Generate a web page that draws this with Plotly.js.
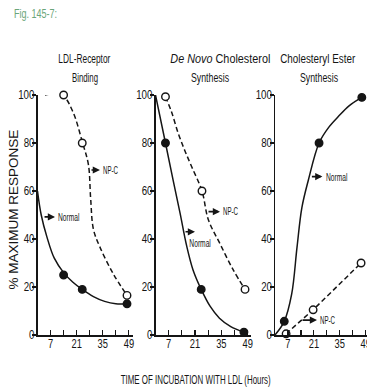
<!DOCTYPE html>
<html><head><meta charset="utf-8">
<script src="https://cdn.plot.ly/plotly-3.0.1.min.js"></script>
<style>html,body{margin:0;padding:0;background:#fff}#chart{width:367px;height:389px}</style>
</head><body><div id="chart"></div><script>
// ---- data ----
const panelTitles1 = ["LDL-Receptor", "<i>De Novo</i> Cholesterol", "Cholesteryl Ester"];
const panelTitles2 = ["Binding", "Synthesis", "Synthesis"];
const yTickVals = [0, 20, 40, 60, 80, 100];
const xTickVals = [7, 14, 21, 28, 35, 42, 49];
const xTickText = ["7", "", "21", "", "35", "", "49"];

// Panel 1: LDL-Receptor Binding
const p1NormalX = [14, 24, 48];
const p1NormalY = [25, 19, 13];
const p1NpcX = [14, 24, 48];
const p1NpcY = [100, 80, 16.5];
const p1NormalCurveX = [0, 2, 5, 9, 14, 19, 24, 30, 36, 42, 48];
const p1NormalCurveY = [60, 50, 41, 32, 26, 22, 19, 16, 14, 13, 13];
const p1NpcCurveX = [4, 9, 14, 19, 24.2, 27.3, 28.5, 30, 33.5, 40.6, 48];
const p1NpcCurveY = [100, 100.5, 99.5, 93, 80, 71, 57, 44, 36.6, 25.5, 16.5];

// Panel 2: De Novo Cholesterol Synthesis
const p2NormalX = [5.3, 24.3, 47];
const p2NormalY = [80, 19, 1.2];
const p2NpcX = [5.3, 24.7, 47.6];
const p2NpcY = [99.3, 60, 19];
const p2NormalCurveX = [0, 5.3, 9.5, 13, 16.6, 20, 24.3, 29, 34, 40, 47];
const p2NormalCurveY = [100, 80, 64, 51, 37, 27, 19, 12, 7, 3.5, 1.2];
const p2NpcCurveX = [5.3, 8.5, 12.1, 15.5, 19.3, 24.7, 28.1, 34.3, 41.4, 47.6];
const p2NpcCurveY = [99.3, 93, 84, 77, 70, 60, 48, 38, 27, 19];

// Panel 3: Cholesteryl Ester Synthesis
const p3NormalX = [5, 23.8, 46.9];
const p3NormalY = [5.7, 80, 99];
const p3NpcX = [6, 20.6, 46.5];
const p3NpcY = [0.5, 10.5, 30];
const p3NormalCurveX = [0, 5, 9, 11.9, 14.5, 18, 23.8, 29, 34.2, 40, 46.9];
const p3NormalCurveY = [0, 5.7, 17, 36.6, 53, 64.5, 80, 86.5, 91, 95.5, 99];

// ---- drawing ----
const W = 367, H = 389;
const FONT = "Liberation Sans, Arial, sans-serif";
const INK = "#151515";
const px = v => v / W;
const py = v => 1 - v / H;

function curve(x, y, ax, dash) {
  return {x, y, xaxis: ax, yaxis: ax.replace('x', 'y'), mode: 'lines', hoverinfo: 'skip',
    line: {color: INK, width: 1.5, shape: 'spline', smoothing: 1, dash: dash ? '5px,3px' : 'solid'}};
}
function pts(x, y, ax, open) {
  return {x, y, xaxis: ax, yaxis: ax.replace('x', 'y'), mode: 'markers', cliponaxis: false,
    marker: {size: 7.5, color: open ? '#fff' : INK, line: {color: INK, width: 1.4}}};
}
const traces = [
  curve(p1NormalCurveX, p1NormalCurveY, 'x', false),
  curve(p1NpcCurveX, p1NpcCurveY, 'x', true),
  pts(p1NormalX, p1NormalY, 'x', false),
  pts(p1NpcX, p1NpcY, 'x', true),
  curve(p2NormalCurveX, p2NormalCurveY, 'x2', false),
  curve(p2NpcCurveX, p2NpcCurveY, 'x2', true),
  pts(p2NormalX, p2NormalY, 'x2', false),
  pts(p2NpcX, p2NpcY, 'x2', true),
  curve(p3NormalCurveX, p3NormalCurveY, 'x3', false),
  {x: p3NpcX, y: p3NpcY, xaxis: 'x3', yaxis: 'y3', mode: 'lines', line: {color: INK, width: 1.5, dash: '5px,3px'}},
  pts(p3NormalX, p3NormalY, 'x3', false),
  pts(p3NpcX, p3NpcY, 'x3', true),
];

function xax(domain, range, anchor) {
  return {domain, range, anchor, showline: true, linewidth: 1.5, linecolor: INK, showgrid: false, zeroline: false,
    ticks: 'inside', ticklen: 5, tickwidth: 1.2, tickcolor: INK, tickvals: xTickVals, ticktext: xTickText,
    ticklabelstandoff: -3, ticklabeloverflow: 'allow',
    tickfont: {family: FONT, size: 12, color: INK}, fixedrange: true};
}
function yax(anchor) {
  return {domain: [54 / H, 294 / H], range: [0, 100], anchor, showline: true, linewidth: 1.5, linecolor: INK,
    showgrid: false, zeroline: false, ticks: 'outside', ticklen: 4, tickwidth: 1.2, tickcolor: INK,
    ticklabelstandoff: -5,
    tickvals: yTickVals, tickfont: {family: FONT, size: 12.5, color: INK}, fixedrange: true};
}

const ann = [];
function txt(text, x, y, opts) {
  ann.push(Object.assign({text, x, y, xref: 'paper', yref: 'paper', showarrow: false,
    font: {family: FONT, size: 12, color: INK}, xanchor: 'center', yanchor: 'middle'}, opts || {}));
}
// figure label
txt("Fig. 145-7:", px(12), py(14), {xanchor: 'left', align: 'left', font: {family: FONT, size: 12.5, color: '#6aa57a'}});
// panel titles
const titleCx1 = [84, 220, 317.5], titleCx2 = [85, 210, 319];
for (let i = 0; i < 3; i++) {
  txt(panelTitles1[i], px(titleCx1[i]), py(59));
  txt(panelTitles2[i], px(titleCx2[i]), py(78));
}
// axis titles
txt("% MAXIMUM RESPONSE", px(12.5), py(210), {textangle: -90, font: {family: FONT, size: 13.5, color: INK}});
txt("TIME OF INCUBATION WITH LDL (Hours)", px(195), py(380), {font: {family: FONT, size: 12, color: INK}});

// series labels with arrows
function label(ax, hx, hy, len, text, tx, ty, anchor) {
  ann.push({x: hx, y: hy, xref: ax, yref: ax.replace('x', 'y'), text: '', showarrow: true,
    ax: -len, ay: 0, arrowhead: 2, arrowsize: 0.9, arrowwidth: 1.6, arrowcolor: INK});
  ann.push({x: tx, y: ty, xref: ax, yref: ax.replace('x', 'y'), text, showarrow: false, align: anchor,
    xanchor: anchor, yanchor: 'middle', font: {family: FONT, size: 10, color: INK}});
}
label('x', 9.4, 49.2, 12, 'Normal', 10.1, 48.8, 'left');
label('x', 33.5, 68.75, 10, 'NP-C', 34.2, 68.75, 'left');
label('x2', 34.3, 51.4, 13, 'NP-C', 34.9, 51.4, 'left');
label('x2', 21, 43, 11, 'Normal', 23.8, 38.2, 'center');
label('x3', 25.6, 66, 12, 'Normal', 26.6, 65.5, 'left');
label('x3', 22.7, 6.2, 16, 'NP-C', 23.3, 6, 'left');

const layout = {
  width: W, height: H, margin: {l: 0, r: 0, t: 0, b: 0}, showlegend: false,
  paper_bgcolor: '#fff', plot_bgcolor: 'rgba(0,0,0,0)',
  xaxis: xax([37.5 / W, 132.6 / W], [0, 51], 'y'),
  xaxis2: xax([155.5 / W, 250.5 / W], [0, 50.5], 'y2'),
  xaxis3: xax([275 / W, 1], [0, 49.7], 'y3'),
  yaxis: yax('x'), yaxis2: yax('x2'), yaxis3: yax('x3'),
  annotations: ann
};

// condensed lettering of the original: squeeze text horizontally (text stays real text)
const targetWidths = {
  "LDL-Receptor": 52, "Binding": 26, "De Novo Cholesterol": 100, "Cholesteryl Ester": 75,
  "Synthesis": 38, "TIME OF INCUBATION WITH LDL (Hours)": 150, "Normal": 21.5, "NP-C": 15,
  "Fig. 145-7:": 43
};
function condense() {
  document.querySelectorAll('.annotation-text').forEach(t => {
    const w = targetWidths[t.textContent.trim()];
    if (w) { t.setAttribute('textLength', w); t.setAttribute('lengthAdjust', 'spacingAndGlyphs'); }
  });
  document.querySelectorAll('.xtick text, .ytick text, .x2tick text, .y2tick text, .x3tick text, .y3tick text').forEach(t => {
    const L = t.getComputedTextLength();
    if (L > 0) { t.setAttribute('textLength', (L * 0.78).toFixed(1)); t.setAttribute('lengthAdjust', 'spacingAndGlyphs'); }
  });
}
Plotly.newPlot('chart', traces, layout, {displayModeBar: false, staticPlot: true}).then(condense);
</script></body></html>
